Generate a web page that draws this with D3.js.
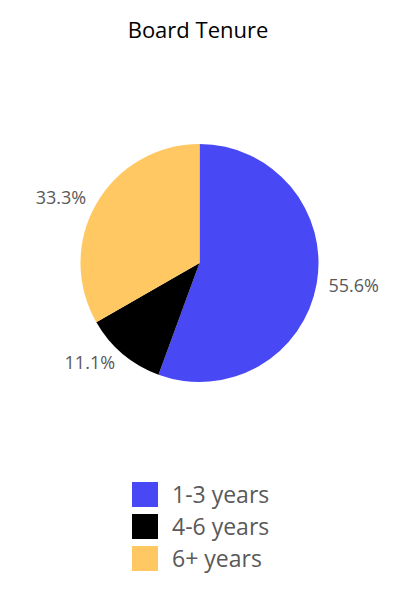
<!DOCTYPE html>
<html><head><meta charset="utf-8">
<script src="https://cdn.jsdelivr.net/npm/d3@7"></script>
<style>body{margin:0;background:#fff;font-family:"Open Sans",sans-serif;}</style>
</head><body>
<svg id="c" width="400" height="600"></svg>
<script>
const categories = ["1-3 years", "4-6 years", "6+ years"];
const values = [55.6, 11.1, 33.3];
const colors = ["#4848F5", "#000000", "#FFC862"];
const title = "Board Tenure";

const svg = d3.select("#c");
svg.append("rect").attr("width",400).attr("height",600).attr("fill","#fff");
svg.append("text").attr("x",198).attr("y",38).attr("text-anchor","middle")
  .attr("font-size",22).attr("fill","#000").text(title);

const cx = 199.5, cy = 263, r = 119;
const pie = d3.pie().sort(null).value(d => d)(values);
const arc = d3.arc().innerRadius(0).outerRadius(r);
const g = svg.append("g").attr("transform",`translate(${cx},${cy})`);
g.selectAll("path").data(pie).enter().append("path")
  .attr("d",arc).attr("fill",(d,i)=>colors[i]);
const lr = r + 12;
const mid = d => (d.startAngle+d.endAngle)/2;
g.selectAll("text.lbl").data(pie).enter().append("text")
  .attr("class","lbl")
  .attr("x", d => Math.sin(mid(d))*lr)
  .attr("y", d => -Math.cos(mid(d))*lr)
  .attr("dy","0.35em")
  .attr("text-anchor", d => Math.sin(mid(d)) >= 0 ? "start" : "end")
  .attr("font-size",18).attr("fill","#595959")
  .text(d => d3.format(".1f")(d.data)+"%");

const leg = svg.append("g").attr("transform","translate(132,482)");
const rows = leg.selectAll("g").data(categories).enter().append("g")
  .attr("transform",(d,i)=>`translate(0,${i*32})`);
rows.append("rect").attr("width",26).attr("height",25).attr("fill",(d,i)=>colors[i]);
rows.append("text").attr("x",40).attr("y",13).attr("dy","0.35em")
  .attr("font-size",23).attr("fill","#595959").text(d=>d);
</script>
</body></html>
